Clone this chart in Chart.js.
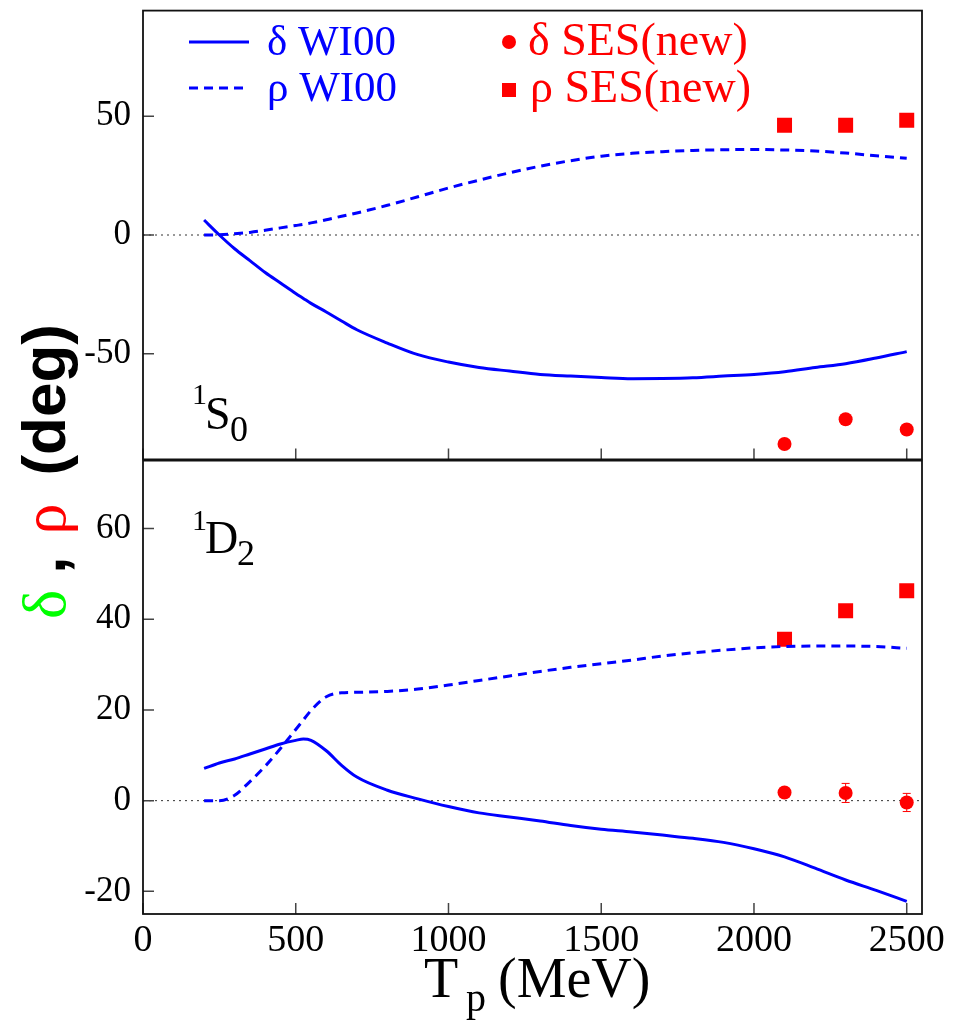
<!DOCTYPE html>
<html lang="en">
<head>
<meta charset="UTF-8">
<title>1S0 / 1D2 phase shifts</title>
<script src="https://cdn.jsdelivr.net/npm/chart.js"></script>
<style>
  body { margin: 0; background: #fff; }
  #wrap { position: relative; width: 971px; height: 1027px; overflow: hidden; font-family: 'Liberation Serif', 'Times New Roman', serif; }
  canvas { position: absolute; left: 0; }
  .t { position: absolute; white-space: nowrap; line-height: 1; }
  .sans { font-family: 'Liberation Sans', Arial, sans-serif; font-weight: bold; }
</style>
</head>
<body>
<div id="wrap">
  <canvas id="topChart" width="971" height="470" style="top:0"></canvas>
  <canvas id="botChart" width="971" height="577" style="top:450px"></canvas>

  <!-- legend -->
  <svg class="t" style="left:189px;top:36px" width="62" height="12"><line x1="0" y1="6" x2="60" y2="6" stroke="#0000ff" stroke-width="3"/></svg>
  <div class="t" style="left:267px;top:19px;font-size:43px;color:#0000ff">δ WI00</div>
  <svg class="t" style="left:189px;top:82px" width="62" height="12"><line x1="0" y1="6" x2="58" y2="6" stroke="#0000ff" stroke-width="3" stroke-dasharray="9,6"/></svg>
  <div class="t" style="left:267px;top:65px;font-size:43px;color:#0000ff">ρ WI00</div>
  <svg class="t" style="left:501px;top:34px" width="16" height="16"><circle cx="8" cy="8" r="7" fill="#ff0000"/></svg>
  <div class="t" style="left:528px;top:17px;font-size:46px;color:#ff0000">δ SES(new)</div>
  <svg class="t" style="left:501px;top:82px" width="16" height="16"><rect x="1" y="1" width="14" height="14" fill="#ff0000"/></svg>
  <div class="t" style="left:530px;top:64px;font-size:46px;color:#ff0000">ρ SES(new)</div>

  <!-- panel labels -->
  <div class="t" style="left:192px;top:379px;font-size:30px">1</div>
  <div class="t" style="left:205px;top:391px;font-size:46px">S</div>
  <div class="t" style="left:230px;top:411px;font-size:36px">0</div>
  <div class="t" style="left:192px;top:505px;font-size:30px">1</div>
  <div class="t" style="left:205px;top:515px;font-size:46px">D</div>
  <div class="t" style="left:237px;top:535px;font-size:36px">2</div>

  <!-- axis titles -->
  <div class="t" style="left:13px;top:619px;transform-origin:left top;transform:rotate(-90deg);font-size:62px">
    <span style="color:#00ff00;margin-right:16px">δ</span><span class="sans" style="margin-right:22px">,</span><span style="color:#ff0000;margin-right:28px">ρ</span><span class="sans">(deg)</span>
  </div>
  <div class="t" style="left:424px;top:950px;font-size:56px">T</div>
  <div class="t" style="left:466px;top:978px;font-size:40px">p</div>
  <div class="t" style="left:498px;top:950px;font-size:56px">(MeV)</div>
</div>

<script>
// energy grid of the WI00 curves (MeV)
const energy = [200, 250, 300, 350, 400, 450, 500, 525, 550, 600, 650, 700, 800, 900, 1000,
                1100, 1200, 1300, 1400, 1500, 1600, 1700, 1800, 1900, 2000, 2100, 2200, 2300, 2400, 2500];

// 1S0 WI00
const deltaS0 = [6.3, 0, -5.8, -10.8, -15.8, -20.2, -24.6, -26.7, -28.8, -32.4, -36.2, -39.9, -45.5, -50.4, -53.5,
                 -55.8, -57.3, -58.7, -59.4, -60.0, -60.5, -60.4, -60.1, -59.4, -58.7, -57.6, -55.8, -54.2, -51.8, -49.1];
const rhoS0 = [0, 0.1, 0.5, 1.1, 2.0, 3.0, 4.0, 4.5, 5.1, 6.4, 7.9, 9.3, 12.5, 16.1, 19.8,
               23.1, 26.2, 29.0, 31.3, 33.2, 34.4, 35.1, 35.6, 35.9, 36.0, 35.8, 35.4, 34.5, 33.4, 32.3];

// 1D2 WI00
const deltaD2 = [7.1, 8.3, 9.2, 10.3, 11.4, 12.5, 13.3, 13.6, 13.3, 11.0, 7.8, 5.2, 2.3, 0.4, -1.3,
                 -2.7, -3.6, -4.5, -5.5, -6.3, -6.9, -7.6, -8.3, -9.2, -10.6, -12.4, -14.9, -17.5, -19.8, -22.2];
const rhoD2 = [0, 0, 1.2, 4.2, 7.6, 11.5, 15.7, 17.8, 19.9, 22.9, 23.8, 23.9, 24.1, 24.6, 25.5,
               26.5, 27.5, 28.5, 29.4, 30.2, 31.0, 31.9, 32.6, 33.2, 33.7, 34.0, 34.1, 34.1, 34.0, 33.6];

// SES(new) single-energy points
const sesEnergy = [2100, 2300, 2500];
const sesDeltaS0 = [-88.0, -77.6, -81.9];
const sesRhoS0 = [46.2, 46.2, 48.3];
const sesDeltaD2 = [1.8, 1.7, -0.4];
const sesDeltaD2Err = [0.6, 2.1, 2.0];
const sesRhoD2 = [35.6, 41.9, 46.3];

// ticks
const xTickVals = [0, 500, 1000, 1500, 2000, 2500];
const s0TickVals = [-50, 0, 50];
const d2TickVals = [-20, 0, 20, 40, 60];

const BLUE = '#0000ff', RED = '#ff0000';
const pts = (xs, ys) => xs.map((x, i) => ({ x: x, y: ys[i] }));

// frame, inward ticks and dotted zero line
const frame = {
  id: 'frame',
  beforeDatasetsDraw(chart) {
    const { ctx, chartArea: a, scales: { y } } = chart;
    const y0 = y.getPixelForValue(0);
    ctx.save();
    ctx.strokeStyle = '#333';
    ctx.lineWidth = 1;
    ctx.setLineDash([2, 4]);
    ctx.beginPath();
    ctx.moveTo(a.left, y0);
    ctx.lineTo(a.right, y0);
    ctx.stroke();
    ctx.restore();
  },
  afterDraw(chart) {
    const { ctx, chartArea: a, scales: { x, y } } = chart;
    ctx.save();
    ctx.strokeStyle = '#444';
    ctx.lineWidth = 1.5;
    ctx.beginPath();
    xTickVals.forEach(v => {
      const px = x.getPixelForValue(v);
      ctx.moveTo(px, a.bottom);
      ctx.lineTo(px, a.bottom - 11);
    });
    y.ticks.forEach(t => {
      const py = y.getPixelForValue(t.value);
      ctx.moveTo(a.left, py);
      ctx.lineTo(a.left + 11, py);
    });
    ctx.stroke();
    ctx.strokeStyle = '#111';
    ctx.lineWidth = 1.8;
    ctx.strokeRect(a.left, a.top, a.right - a.left, a.bottom - a.top);
    ctx.restore();
  }
};

// small vertical error bars on the SES points
const errBars = {
  id: 'errBars',
  afterDatasetsDraw(chart) {
    const { ctx, scales: { x, y } } = chart;
    chart.data.datasets.forEach(ds => {
      if (!ds.errors) return;
      ctx.save();
      ctx.strokeStyle = RED;
      ctx.lineWidth = 1;
      ds.data.forEach((p, i) => {
        const px = x.getPixelForValue(p.x);
        const yt = y.getPixelForValue(p.y + ds.errors[i]);
        const yb = y.getPixelForValue(p.y - ds.errors[i]);
        ctx.beginPath();
        ctx.moveTo(px, yt); ctx.lineTo(px, yb);
        ctx.moveTo(px - 4, yt); ctx.lineTo(px + 4, yt);
        ctx.moveTo(px - 4, yb); ctx.lineTo(px + 4, yb);
        ctx.stroke();
      });
      ctx.restore();
    });
  }
};

function datasets(delta, rho, sesDelta, sesRho, sesErr) {
  return [
    { label: 'δ WI00', data: pts(energy, delta), borderColor: BLUE, borderWidth: 3, pointRadius: 0, cubicInterpolationMode: 'monotone' },
    { label: 'ρ WI00', data: pts(energy, rho), borderColor: BLUE, borderWidth: 3, borderDash: [9, 6], pointRadius: 0, cubicInterpolationMode: 'monotone' },
    { label: 'δ SES(new)', data: pts(sesEnergy, sesDelta), showLine: false, pointStyle: 'circle', pointRadius: 7,
      backgroundColor: RED, borderColor: RED, borderWidth: 0, errors: sesErr },
    { label: 'ρ SES(new)', data: pts(sesEnergy, sesRho), showLine: false, pointStyle: 'rect', pointRadius: 10.6,
      backgroundColor: RED, borderColor: RED, borderWidth: 0 }
  ];
}

const serif = "'Liberation Serif', 'Times New Roman', serif";

function yAxis(min, max, vals) {
  return {
    min: min, max: max,
    afterBuildTicks: s => { s.ticks = vals.map(v => ({ value: v })); },
    afterFit: s => { s.width = 143; s.paddingTop = 0; s.paddingBottom = 0; },
    grid: { display: false, drawTicks: false },
    border: { display: false },
    ticks: { font: { family: serif, size: 35 }, color: '#000', padding: 12, callback: v => String(v) }
  };
}

// upper panel: 1S0
new Chart(document.getElementById('topChart'), {
  type: 'line',
  data: { datasets: datasets(deltaS0, rhoS0, sesDeltaS0, sesRhoS0, null) },
  options: {
    responsive: false,
    animation: false,
    layout: { padding: { left: 0, right: 49, top: 6, bottom: 10 } },
    plugins: { legend: { display: false }, tooltip: { enabled: false } },
    scales: {
      x: { type: 'linear', min: 0, max: 2550, display: false },
      y: yAxis(-94.5, 94.5, s0TickVals)
    }
  },
  plugins: [frame, errBars]
});

// lower panel: 1D2
new Chart(document.getElementById('botChart'), {
  type: 'line',
  data: { datasets: datasets(deltaD2, rhoD2, sesDeltaD2, sesRhoD2, sesDeltaD2Err) },
  options: {
    responsive: false,
    animation: false,
    layout: { padding: { left: 0, right: 49, top: 10, bottom: 0 } },
    plugins: { legend: { display: false }, tooltip: { enabled: false } },
    scales: {
      x: {
        type: 'linear', min: 0, max: 2550,
        afterBuildTicks: s => { s.ticks = xTickVals.map(v => ({ value: v })); },
        afterFit: s => { s.height = 113; s.paddingLeft = 0; s.paddingRight = 0; },
        grid: { display: false, drawTicks: false },
        border: { display: false },
        ticks: { font: { family: serif, size: 38 }, color: '#000', padding: 4, maxRotation: 0, callback: v => String(v) }
      },
      y: yAxis(-25, 75, d2TickVals)
    }
  },
  plugins: [frame, errBars]
});
</script>
</body>
</html>
